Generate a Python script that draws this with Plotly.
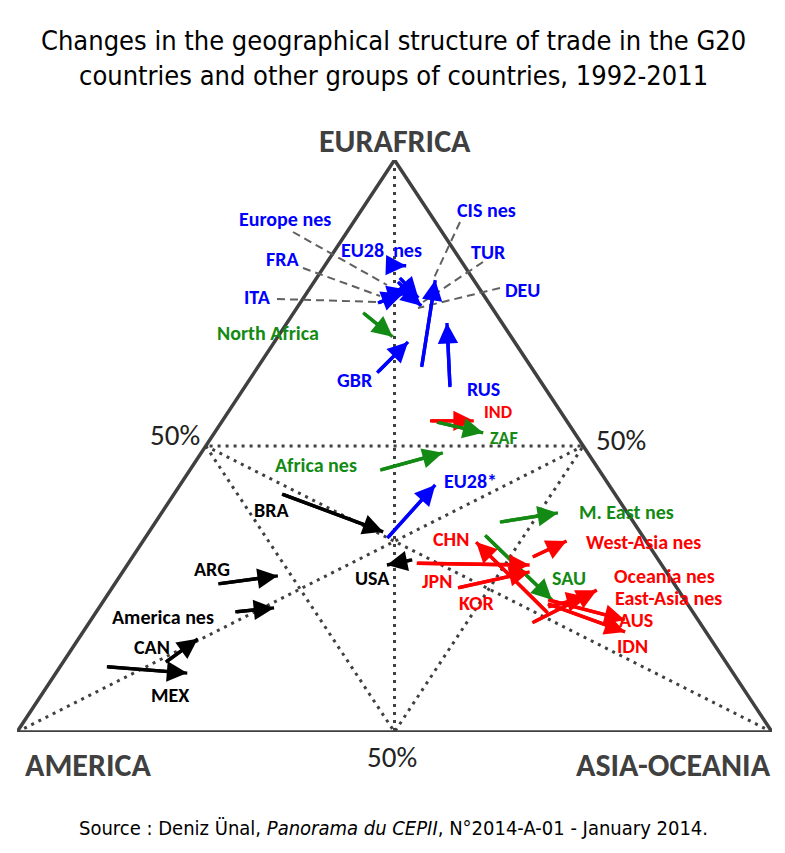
import plotly.graph_objects as go

# ---- data: shares (%) of trade with each region, 1992 -> 2011 ----
names = ["EU28 nes", "Europe nes", "FRA", "ITA", "DEU", "TUR", "CIS nes", "RUS", "GBR",
         "North Africa", "IND", "ZAF", "Africa nes", "EU28*", "BRA", "USA", "ARG",
         "America nes", "CAN", "MEX", "M. East nes", "West-Asia nes", "CHN", "SAU",
         "JPN", "KOR", "Oceania nes", "East-Asia nes", "AUS", "IDN"]
groups = ["eu", "eu", "eu", "eu", "eu", "eu", "eu", "eu", "eu",
          "af", "as", "af", "af", "eu", "am", "am", "am",
          "am", "am", "am", "af", "as", "as", "af",
          "as", "as", "as", "as", "as", "as"]
eur_1992 = [81.6, 78.7, 76.2, 75.0, 77.3, 79.4, 63.8, 60.3, 62.8,
            73.3, 54.4, 54.2, 45.8, 33.9, 41.6, 30.1, 25.9,
            21.0, 12.2, 11.4, 36.7, 30.6, 20.8, 34.4,
            29.5, 25.2, 19.1, 21.9, 23.1, 22.4]
asi_1992 = [8.5, 11.1, 10.8, 10.3, 12.5, 11.0, 21.7, 27.2, 16.3,
            9.2, 27.5, 28.5, 25.2, 32.1, 14.3, 37.3, 13.7,
            18.4, 13.6, 6.2, 45.6, 53.0, 59.9, 44.8,
            38.2, 45.8, 58.7, 59.4, 58.8, 59.1]
eur_2011 = [81.5, 75.5, 77.3, 76.6, 74.5, 75.9, 79.0, 71.5, 68.2,
            69.1, 54.4, 52.3, 48.8, 43.2, 35.0, 29.2, 27.3,
            21.7, 16.3, 10.3, 38.3, 33.4, 33.2, 23.1,
            29.2, 28.0, 24.8, 23.6, 19.6, 17.5]
asi_2011 = [10.8, 15.1, 13.1, 12.7, 16.3, 15.2, 15.9, 21.2, 17.7,
            15.2, 33.3, 35.6, 32.0, 33.8, 31.0, 34.4, 20.9,
            23.2, 15.8, 17.4, 52.5, 56.1, 44.2, 59.3,
            53.3, 53.9, 64.4, 63.7, 70.7, 71.8]
ame_1992 = [100 - e - a for e, a in zip(eur_1992, asi_1992)]
ame_2011 = [100 - e - a for e, a in zip(eur_2011, asi_2011)]

group_colors = {"eu": "#0000FF", "af": "#138A13", "as": "#FF0000", "am": "#000000"}
GRAY = "#404040"


def proj(eur, ame, asi):
    """Ternary shares -> position in the triangle (AMERICA left, ASIA right, EURAFRICA top)."""
    tot = eur + ame + asi
    return (asi + 0.5 * eur) / tot, eur / tot


def px(xp, yp):
    """Pixel position in the page -> paper coordinates (for text placement)."""
    return (xp - 17) / 755, (732 - yp) / 572


fig = go.Figure()

# triangle outline
verts = [(100, 0, 0), (0, 100, 0), (0, 0, 100), (100, 0, 0)]
tx, ty = zip(*[proj(*v) for v in verts])
fig.add_trace(go.Scatter(x=tx, y=ty, mode="lines", line=dict(color=GRAY, width=3.5),
                         hoverinfo="skip", cliponaxis=False, showlegend=False))

# dotted 50% lines (medial triangle) and medians
mid_pts = [(50, 50, 0), (0, 50, 50), (50, 0, 50), (50, 50, 0)]
guides = [mid_pts,
          [(100, 0, 0), (0, 50, 50)],
          [(0, 100, 0), (50, 0, 50)],
          [(0, 0, 100), (50, 50, 0)]]
for g in guides:
    gx, gy = zip(*[proj(*v) for v in g])
    fig.add_trace(go.Scatter(x=gx, y=gy, mode="lines",
                             line=dict(color=GRAY, width=3, dash="3px,5px"),
                             hoverinfo="skip", cliponaxis=False, showlegend=False))

annotations = []
# arrows
for i, n in enumerate(names):
    x0, y0 = proj(eur_1992[i], ame_1992[i], asi_1992[i])
    x1, y1 = proj(eur_2011[i], ame_2011[i], asi_2011[i])
    col = group_colors[groups[i]]
    fig.add_trace(go.Scatter(x=[x0, x1], y=[y0, y1], mode="lines", name=n,
                             line=dict(color=col, width=3.4), showlegend=False,
                             cliponaxis=False))
    annotations.append(dict(x=x1, y=y1, ax=x0, ay=y0, xref="x", yref="y",
                            axref="x", ayref="y", text="", showarrow=True,
                            arrowhead=2, arrowsize=1.2, arrowwidth=3.4,
                            arrowcolor=col, standoff=0))

# dashed leader lines for the crowded European cluster
leaders = [((293, 232), (387, 285)), ((303, 268), (380, 296)), ((277, 299), (380, 302)),
           ((460, 222), (433, 280)), ((483, 262), (423, 302)), ((500, 288), (418, 308))]
shapes = []
for (a, b) in leaders:
    xa, ya = px(*a)
    xb, yb = px(*b)
    shapes.append(dict(type="line", xref="paper", yref="paper", x0=xa, y0=ya, x1=xb, y1=yb,
                       line=dict(color="#606060", width=2, dash="8px,5px")))

LABF = "Carlito, Lato, Open Sans, sans-serif"
labels = [("Europe nes", 285, 219, "eu", 20), ("FRA", 282, 259, "eu", 20), ("EU28  nes", 381, 250, "eu", 20),
          ("CIS nes", 487, 210, "eu", 20), ("TUR", 488, 252, "eu", 20), ("DEU", 522, 290, "eu", 20),
          ("ITA", 257, 297, "eu", 20), ("North Africa", 268, 333, "af", 20), ("GBR", 355, 380, "eu", 20),
          ("RUS", 483, 389, "eu", 20), ("IND", 498, 412, "as", 18), ("ZAF", 504, 438, "af", 18),
          ("Africa nes", 316, 465, "af", 20), ("EU28*", 470, 481, "eu", 20), ("BRA", 271, 510, "am", 20),
          ("M. East nes", 626, 512, "af", 20), ("West-Asia nes", 643, 542, "as", 20), ("CHN", 451, 539, "as", 20),
          ("USA", 372, 578, "am", 20), ("JPN", 437, 581, "as", 20), ("SAU", 569, 578, "af", 20),
          ("Oceania nes", 664, 576, "as", 20), ("East-Asia nes", 668, 598, "as", 20), ("KOR", 477, 603, "as", 20),
          ("AUS", 636, 620, "as", 20), ("IDN", 632, 646, "as", 20), ("ARG", 212, 569, "am", 20),
          ("America nes", 163, 617, "am", 20), ("CAN", 152, 647, "am", 20), ("MEX", 170, 695, "am", 20)]
for t, xp, yp, g, sz in labels:
    x, y = px(xp, yp)
    annotations.append(dict(x=x, y=y, xref="paper", yref="paper", text=t, showarrow=False,
                            xanchor="center", yanchor="middle",
                            font=dict(family=LABF, size=sz, color=group_colors[g], weight="bold")))

# vertex titles
for t, xp, yp in [("EURAFRICA", 395, 141), ("AMERICA", 88, 765), ("ASIA-OCEANIA", 673, 765)]:
    x, y = px(xp, yp)
    annotations.append(dict(x=x, y=y, xref="paper", yref="paper", text=t, showarrow=False,
                            xanchor="center", yanchor="middle",
                            font=dict(family=LABF, size=32, color=GRAY, weight="bold")))

# 50% markers
for xp, yp in [(175, 435), (621, 440), (392, 757)]:
    x, y = px(xp, yp)
    annotations.append(dict(x=x, y=y, xref="paper", yref="paper", text="50%", showarrow=False,
                            xanchor="center", yanchor="middle",
                            font=dict(family=LABF, size=29, color="#222222")))

TF = "Liberation Sans Narrow, Arial Narrow, DejaVu Sans Condensed, sans-serif"
x, y = px(393, 58)
annotations.append(dict(x=x, y=y, xref="paper", yref="paper", showarrow=False,
                        text="Changes in the geographical structure of trade in the G20<br>"
                             "countries and other groups of countries, 1992-2011",
                        xanchor="center", yanchor="middle",
                        font=dict(family=TF, size=27, color="#000000")))
x, y = px(393, 828)
annotations.append(dict(x=x, y=y, xref="paper", yref="paper", showarrow=False,
                        text="Source : Deniz Ünal, <i>Panorama du CEPII</i>, N°2014-A-01 - January 2014.",
                        xanchor="center", yanchor="middle",
                        font=dict(family=TF, size=20, color="#000000")))

# page body has an 8px offset, compensate in the margins
fig.update_layout(
    width=785, height=853, autosize=False,
    margin=dict(l=9, r=21, t=152, b=129),
    paper_bgcolor="white", plot_bgcolor="white",
    xaxis=dict(range=[0, 1], visible=False, fixedrange=True),
    yaxis=dict(range=[0, 1], visible=False, fixedrange=True),
    annotations=annotations, shapes=shapes, showlegend=False,
)

fig.write_html("out.html")
